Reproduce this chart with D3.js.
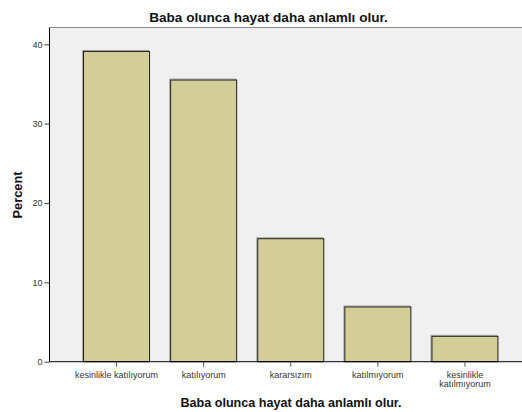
<!DOCTYPE html>
<html>
<head>
<meta charset="utf-8">
<script src="https://cdn.jsdelivr.net/npm/d3@7"></script>
<style>
  body { margin: 0; background: #fff; }
  svg { display: block; font-family: Arial, "Liberation Sans", sans-serif; }
</style>
</head>
<body>
<svg id="chart" width="522" height="412"></svg>
<script>
// Response categories and their percentages
const categories = ["kesinlikle katılıyorum", "katılıyorum", "kararsızım", "katılmıyorum", "kesinlikle katılmıyorum"];
const categoryLines = [["kesinlikle katılıyorum"], ["katılıyorum"], ["kararsızım"], ["katılmıyorum"], ["kesinlikle", "katılmıyorum"]];
const percents = [39.1, 35.5, 15.5, 6.9, 3.2];
const yTicks = [0, 10, 20, 30, 40];

const title = "Baba olunca hayat daha anlamlı olur.";
const yTitle = "Percent";

const svg = d3.select("#chart");
const plot = { left: 49.5, right: 522, top: 27.5, bottom: 361.7 };

const x = d3.scaleBand()
  .domain(categories)
  .range([73, 508.5])
  .paddingInner(0.242)
  .paddingOuter(0.121);

const y = d3.scaleLinear()
  .domain([0, 40])
  .range([plot.bottom, 44.3]);

// plot background
svg.append("rect")
  .attr("x", plot.left).attr("y", plot.top)
  .attr("width", plot.right - plot.left).attr("height", plot.bottom - plot.top)
  .attr("fill", "#f0f0f0");

// top frame line
svg.append("line")
  .attr("x1", plot.left).attr("x2", plot.right)
  .attr("y1", plot.top).attr("y2", plot.top)
  .attr("stroke", "#8c8c8c").attr("stroke-width", 1);

// bars with a soft shadow edge
const bars = svg.append("g");
bars.selectAll("rect.shadow")
  .data(percents)
  .join("rect")
  .attr("class", "shadow")
  .attr("x", (d, i) => x(categories[i]) - 1)
  .attr("y", d => y(d) - 1)
  .attr("width", x.bandwidth())
  .attr("height", d => plot.bottom - y(d) + 1)
  .attr("fill", "none")
  .attr("stroke", "#a8a8a8")
  .attr("stroke-width", 1);
bars.selectAll("rect.bar")
  .data(percents)
  .join("rect")
  .attr("class", "bar")
  .attr("x", (d, i) => x(categories[i]))
  .attr("y", d => y(d))
  .attr("width", x.bandwidth())
  .attr("height", d => plot.bottom - y(d))
  .attr("fill", "#d3ce97")
  .attr("stroke", "#1e1e1e")
  .attr("stroke-width", 1);

// y axis
const yAxis = svg.append("g")
  .attr("transform", `translate(${plot.left},0)`)
  .call(d3.axisLeft(y).tickValues(yTicks).tickSize(5).tickPadding(2).tickSizeOuter(0));
yAxis.select(".domain").attr("d", `M0,${plot.top}V${plot.bottom}`).attr("stroke", "#000");
yAxis.selectAll(".tick line").attr("stroke", "#444");
yAxis.selectAll(".tick text")
  .attr("font-size", 9)
  .attr("fill", "#333")
  .attr("font-family", "Arial, 'Liberation Sans', sans-serif");

// x axis
const xAxis = svg.append("g")
  .attr("transform", `translate(0,${plot.bottom})`)
  .call(d3.axisBottom(x).tickSize(5).tickSizeOuter(0).tickFormat(""));
xAxis.select(".domain").attr("d", `M${plot.left},0H${plot.right}`).attr("stroke", "#000");
xAxis.selectAll(".tick line").attr("stroke", "#555");
xAxis.selectAll(".tick").each(function (d, i) {
  const t = d3.select(this).append("text")
    .attr("fill", "#333")
    .attr("font-size", 9)
    .attr("text-anchor", "middle")
    .attr("font-family", "Arial, 'Liberation Sans', sans-serif");
  categoryLines[i].forEach((ln, k) => {
    t.append("tspan").attr("x", 0).attr("y", 16 + k * 9).text(ln);
  });
});

// titles
svg.append("text")
  .attr("x", 268.5).attr("y", 21.5)
  .attr("text-anchor", "middle")
  .attr("font-size", 13.6).attr("font-weight", "bold")
  .attr("fill", "#111")
  .text(title);

svg.append("text")
  .attr("x", 291).attr("y", 406.5)
  .attr("text-anchor", "middle")
  .attr("font-size", 12.6).attr("font-weight", "bold")
  .attr("fill", "#111")
  .text(title);

svg.append("text")
  .attr("transform", "translate(21.5,195) rotate(-90)")
  .attr("text-anchor", "middle")
  .attr("font-size", 12.8).attr("font-weight", "bold")
  .attr("fill", "#111")
  .text(yTitle);
</script>
</body>
</html>
